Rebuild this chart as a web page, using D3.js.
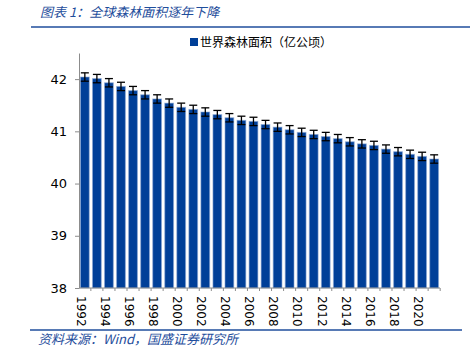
<!DOCTYPE html>
<html lang="zh">
<head>
<meta charset="UTF-8">
<script src="https://d3js.org/d3.v7.min.js"></script>
<style>
    body { margin: 0; background: #fff; }
    .cap { font-family: "Noto Sans CJK SC", sans-serif; font-style: italic; fill: #1f4e9c; font-size: 13px; }
    .legend { font-family: "Noto Sans CJK SC", sans-serif; font-size: 12px; fill: #000; }
    .axis text { font-family: "DejaVu Sans", Verdana, sans-serif; fill: #000; }
    .axis path, .axis line { stroke: #8c8c8c; }
</style>
</head>
<body>
<svg id="chart"></svg>
<script>
    // 世界森林面积（亿公顷）
    const years = d3.range(1992, 2022).map(String);
    const area = [42.04, 42.01, 41.93, 41.86, 41.78, 41.70, 41.62, 41.54, 41.46, 41.42,
                  41.37, 41.32, 41.26, 41.21, 41.19, 41.13, 41.08, 41.03, 40.98, 40.94,
                  40.90, 40.86, 40.80, 40.76, 40.73, 40.66, 40.61, 40.56, 40.52, 40.47];
    const errAmount = 0.08;
    const yTicks = [38, 39, 40, 41, 42];
    const xLabels = years.filter((d, i) => i % 2 === 0);

    const data = years.map((y, i) => ({ year: y, value: area[i] }));

    const width = 474, height = 351;
    const margin = { top: 53, right: 34, bottom: 63, left: 79 };

    const svg = d3.select("#chart").attr("width", width).attr("height", height);

    // title + rules
    svg.append("text").attr("class", "cap").attr("x", 40).attr("y", 17)
        .text("图表 1：全球森林面积逐年下降");
    svg.append("line").attr("x1", 31).attr("x2", 470).attr("y1", 27).attr("y2", 27)
        .attr("stroke", "#1f4e9c").attr("stroke-width", 1.5);
    svg.append("line").attr("x1", 30).attr("x2", 462).attr("y1", 330).attr("y2", 330)
        .attr("stroke", "#1f4e9c").attr("stroke-width", 1.5);
    svg.append("text").attr("class", "cap").attr("x", 38).attr("y", 344)
        .text("资料来源：Wind，国盛证券研究所");

    // legend
    svg.append("rect").attr("x", 190).attr("y", 38).attr("width", 8).attr("height", 8)
        .attr("fill", "#003f98");
    svg.append("text").attr("class", "legend").attr("x", 200).attr("y", 47)
        .text("世界森林面积（亿公顷）");

    const x = d3.scaleBand()
        .domain(years)
        .range([margin.left, width - margin.right])
        .paddingInner(0.27)
        .paddingOuter(0.12);

    const y = d3.scaleLinear()
        .domain([38, 42.5])
        .range([height - margin.bottom, margin.top]);

    // bars
    svg.selectAll(".bar")
        .data(data)
        .enter()
        .append("rect")
        .attr("class", "bar")
        .attr("x", d => x(d.year))
        .attr("y", d => y(d.value))
        .attr("width", x.bandwidth())
        .attr("height", d => y(38) - y(d.value))
        .attr("fill", "#003f98")
        .attr("stroke", "#8aa6d4")
        .attr("stroke-width", 1)
        .attr("stroke-opacity", 0.6);

    // error bars
    const eb = svg.append("g").attr("stroke", "#000").attr("stroke-width", 1.3);
    data.forEach(d => {
        const cx = x(d.year) + x.bandwidth() / 2;
        const y1 = y(d.value + errAmount), y2 = y(d.value - errAmount);
        eb.append("line").attr("x1", cx).attr("x2", cx).attr("y1", y1).attr("y2", y2);
        eb.append("line").attr("x1", cx - 4).attr("x2", cx + 4).attr("y1", y1).attr("y2", y1);
        eb.append("line").attr("x1", cx - 4).attr("x2", cx + 4).attr("y1", y2).attr("y2", y2);
    });

    // y axis
    const yAxis = svg.append("g")
        .attr("class", "axis")
        .attr("transform", `translate(${margin.left},0)`)
        .call(d3.axisLeft(y).tickValues(yTicks).tickFormat(d3.format("d"))
            .tickSize(4).tickSizeOuter(0).tickPadding(8));
    yAxis.selectAll("text").attr("font-size", 13);

    // x axis
    const base = height - margin.bottom;
    svg.append("line").attr("x1", margin.left).attr("x2", width - margin.right)
        .attr("y1", base).attr("y2", base).attr("stroke", "#8c8c8c");
    const step = x.step();
    svg.append("g").selectAll("line")
        .data(years)
        .enter()
        .append("line")
        .attr("x1", d => x(d) + x.bandwidth() + (step - x.bandwidth()) / 2)
        .attr("x2", d => x(d) + x.bandwidth() + (step - x.bandwidth()) / 2)
        .attr("y1", base).attr("y2", base + 3)
        .attr("stroke", "#8c8c8c");

    svg.append("g").attr("class", "axis").selectAll("text")
        .data(xLabels)
        .enter()
        .append("text")
        .attr("transform", d => `translate(${x(d) + x.bandwidth() / 2 - 4},${base + 8}) rotate(90)`)
        .attr("dy", "0.35em")
        .attr("font-size", 12)
        .text(d => d);
</script>
</body>
</html>
